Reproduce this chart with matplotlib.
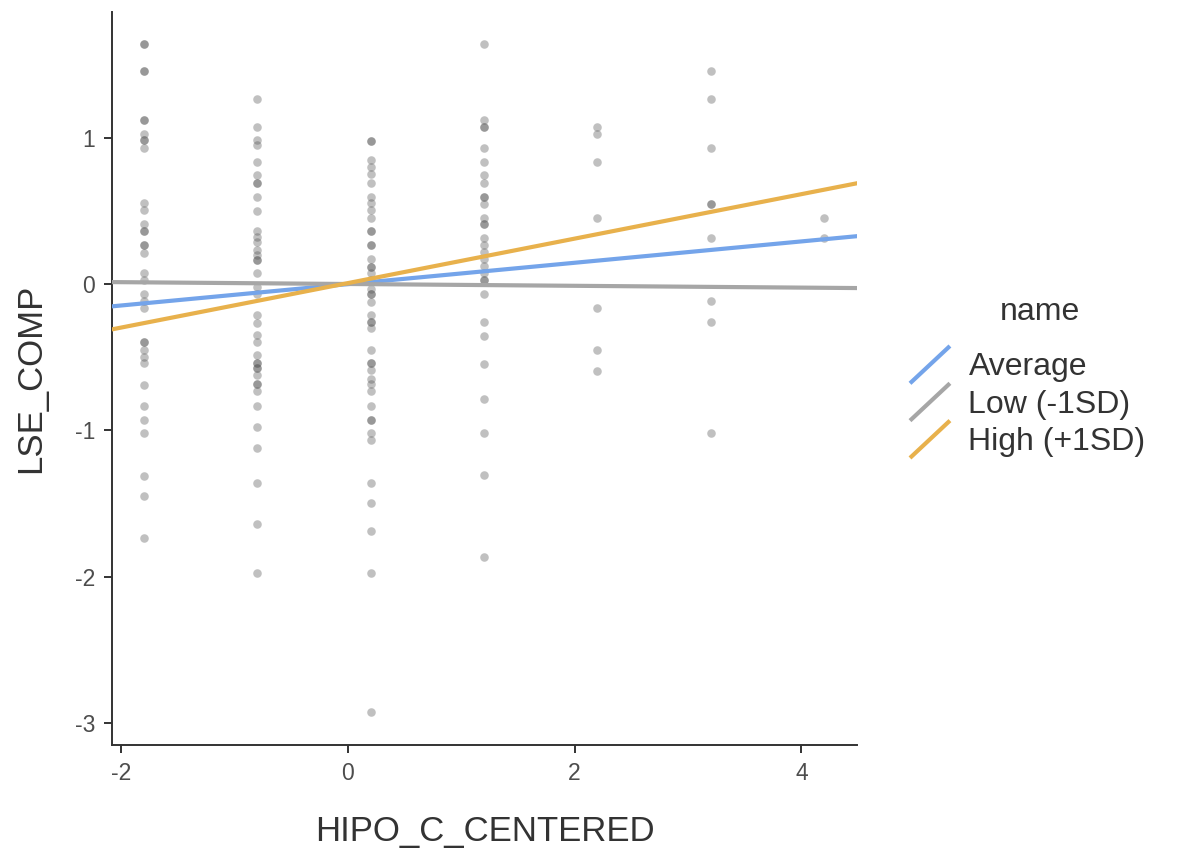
import numpy as np
import matplotlib
matplotlib.use("Agg")
import matplotlib.pyplot as plt
from matplotlib.legend_handler import HandlerBase
from matplotlib.lines import Line2D

plt.rcParams['font.family'] = ['Liberation Sans', 'DejaVu Sans']
plt.rcParams['axes.unicode_minus'] = False

# punti osservati, una colonna per ogni valore di HIPO_C_CENTERED
x_levels = [-1.8, -0.8, 0.2, 1.2, 2.2, 3.2, 4.2]
y_m18 = [1.643, 1.643, 1.454, 1.454, 1.124, 1.124, 1.029, 0.983, 0.983, 0.931, 0.555, 0.505,
         0.41, 0.364, 0.364, 0.266, 0.266, 0.216, 0.077, 0.027, -0.068, -0.116, -0.166,
         -0.398, -0.398, -0.45, -0.496, -0.541, -0.687, -0.83, -0.926, -1.02, -1.308,
         -1.449, -1.736]
y_m08 = [1.263, 1.074, 0.983, 0.949, 0.835, 0.744, 0.694, 0.694, 0.596, 0.5, 0.364, 0.323,
         0.289, 0.232, 0.198, 0.164, 0.164, 0.073, -0.018, -0.07, -0.212, -0.264, -0.348,
         -0.398, -0.485, -0.541, -0.541, -0.576, -0.576, -0.621, -0.685, -0.685, -0.73,
         -0.83, -0.974, -1.117, -1.356, -1.64, -1.975]
y_p02 = [0.978, 0.978, 0.846, 0.801, 0.755, 0.694, 0.596, 0.555, 0.505, 0.455, 0.364, 0.364,
         0.266, 0.266, 0.175, 0.118, 0.118, 0.073, 0.027, -0.03, -0.068, -0.068, -0.121,
         -0.212, -0.257, -0.257, -0.303, -0.45, -0.541, -0.541, -0.587, -0.645, -0.685,
         -0.73, -0.83, -0.926, -0.926, -1.02, -1.065, -1.356, -1.497, -1.686, -1.975, -2.924]
y_p12 = [1.643, 1.124, 1.074, 1.074, 0.931, 0.835, 0.744, 0.694, 0.596, 0.596, 0.551, 0.455,
         0.41, 0.41, 0.312, 0.266, 0.221, 0.175, 0.123, 0.073, 0.027, 0.027, -0.068, -0.262,
         -0.355, -0.546, -0.785, -1.02, -1.304, -1.864]
y_p22 = [1.074, 1.024, 0.835, 0.455, -0.166, -0.45, -0.594]
y_p32 = [1.454, 1.263, 0.931, 0.551, 0.551, 0.312, -0.116, -0.262, -1.02]
y_p42 = [0.455, 0.312]
y_cols = [y_m18, y_m08, y_p02, y_p12, y_p22, y_p32, y_p42]

# rette semplici (moderatore a -1SD, media, +1SD)
line_names = ['Average', 'Low (-1SD)', 'High (+1SD)']
intercepts = [0.0, 0.001, 0.007]
slopes = [0.073, -0.0062, 0.152]
line_colors = ['#74a4ea', '#a6a6a6', '#e8b14c']

xlim = (-2.08, 4.49)
ylim = (-3.15, 1.86)


class HandlerDiag(HandlerBase):
    # linea diagonale nella legenda
    def create_artists(self, legend, orig_handle, xdescent, ydescent, width, height, fontsize, trans):
        ln = Line2D([-xdescent, -xdescent + width], [-ydescent, -ydescent + height],
                    color=orig_handle.get_color(), lw=orig_handle.get_linewidth(),
                    solid_capstyle='butt', transform=trans)
        return [ln]


fig = plt.figure(figsize=(11.77, 8.58), dpi=100)
ax = fig.add_axes([112 / 1177, 1 - 745 / 858, (857 - 112) / 1177, (745 - 12) / 858])

xs = np.concatenate([np.full(len(c), xv) for xv, c in zip(x_levels, y_cols)])
ys = np.concatenate(y_cols)
ax.scatter(xs, ys, s=38, color='#555555', alpha=0.37, linewidths=0, zorder=2)

xx = np.array(xlim)
handles = []
for name, b0, b1, col in zip(line_names, intercepts, slopes, line_colors):
    h, = ax.plot(xx, b0 + b1 * xx, color=col, lw=3.0, label=name, zorder=3)
    handles.append(h)

ax.set_xlim(*xlim)
ax.set_ylim(*ylim)
ax.set_xticks([-2, 0, 2, 4])
ax.set_yticks([-3, -2, -1, 0, 1])
for s in ['top', 'right']:
    ax.spines[s].set_visible(False)
for s in ['left', 'bottom']:
    ax.spines[s].set_color('#333333')
    ax.spines[s].set_linewidth(1.4)
ax.tick_params(length=6, width=1.4, color='#333333', labelsize=16.5, labelcolor='#4d4d4d', pad=6)
ax.set_xlabel('HIPO_C_CENTERED', fontsize=25, color='#333333', labelpad=22)
ax.set_ylabel('LSE_COMP', fontsize=25, color='#333333', labelpad=20)

# titolo legenda a parte, per avere lo stesso spazio del riferimento
fig.text(1040 / 1177, 1 - 312 / 858, 'name', fontsize=23, color='#333333', ha='center', va='center')
leg = fig.legend(handles=handles, labels=line_names,
                 handler_map={Line2D: HandlerDiag()},
                 loc='upper left', bbox_to_anchor=(910 / 1177, 1 - 346 / 858),
                 frameon=False, fontsize=23,
                 handlelength=1.25, handleheight=1.42, handletextpad=0.58,
                 labelspacing=0.0, borderpad=0, borderaxespad=0)
for t in leg.get_texts():
    t.set_color('#333333')

fig.savefig('out.png', dpi=100)
